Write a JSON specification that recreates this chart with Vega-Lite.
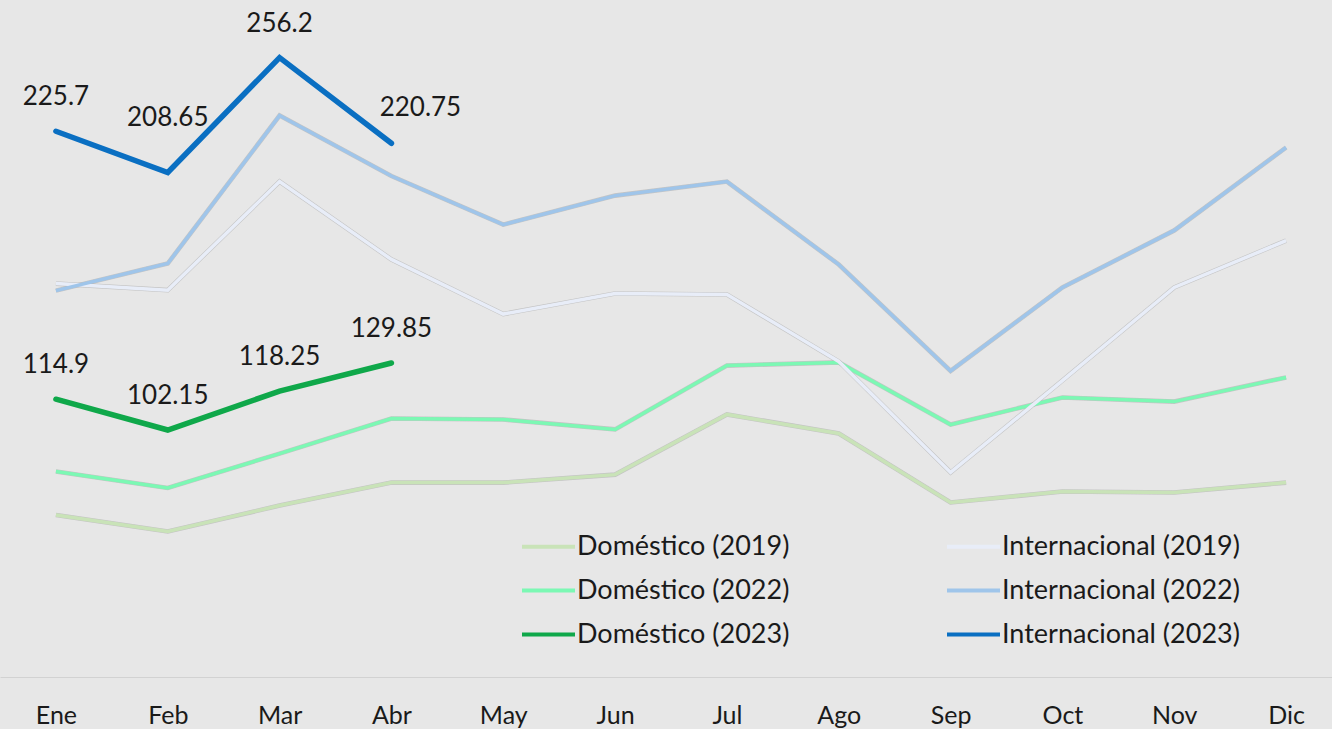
{
  "$schema": "https://vega.github.io/schema/vega-lite/v6.json",
  "width": 1342,
  "height": 677,
  "autosize": {"type": "none"},
  "padding": {"left": 0, "top": 0, "right": 0, "bottom": 52},
  "background": "#e7e7e7",
  "config": {
    "view": {"stroke": null},
    "font": "Lato"
  },
  "data": {
    "values": [
      {"mes": "Ene", "serie": "Doméstico (2019)", "valor": 67.0},
      {"mes": "Feb", "serie": "Doméstico (2019)", "valor": 60.2},
      {"mes": "Mar", "serie": "Doméstico (2019)", "valor": 70.9},
      {"mes": "Abr", "serie": "Doméstico (2019)", "valor": 80.4},
      {"mes": "May", "serie": "Doméstico (2019)", "valor": 80.4},
      {"mes": "Jun", "serie": "Doméstico (2019)", "valor": 83.7},
      {"mes": "Jul", "serie": "Doméstico (2019)", "valor": 108.6},
      {"mes": "Ago", "serie": "Doméstico (2019)", "valor": 100.7},
      {"mes": "Sep", "serie": "Doméstico (2019)", "valor": 72.2},
      {"mes": "Oct", "serie": "Doméstico (2019)", "valor": 76.7},
      {"mes": "Nov", "serie": "Doméstico (2019)", "valor": 76.3},
      {"mes": "Dic", "serie": "Doméstico (2019)", "valor": 80.4},
      {"mes": "Ene", "serie": "Doméstico (2022)", "valor": 85.0},
      {"mes": "Feb", "serie": "Doméstico (2022)", "valor": 78.2},
      {"mes": "Mar", "serie": "Doméstico (2022)", "valor": 92.4},
      {"mes": "Abr", "serie": "Doméstico (2022)", "valor": 106.9},
      {"mes": "May", "serie": "Doméstico (2022)", "valor": 106.5},
      {"mes": "Jun", "serie": "Doméstico (2022)", "valor": 102.4},
      {"mes": "Jul", "serie": "Doméstico (2022)", "valor": 128.8},
      {"mes": "Ago", "serie": "Doméstico (2022)", "valor": 130.1},
      {"mes": "Sep", "serie": "Doméstico (2022)", "valor": 104.4},
      {"mes": "Oct", "serie": "Doméstico (2022)", "valor": 115.6},
      {"mes": "Nov", "serie": "Doméstico (2022)", "valor": 113.9},
      {"mes": "Dic", "serie": "Doméstico (2022)", "valor": 123.9},
      {"mes": "Ene", "serie": "Internacional (2019)", "valor": 162.7},
      {"mes": "Feb", "serie": "Internacional (2019)", "valor": 160.0},
      {"mes": "Mar", "serie": "Internacional (2019)", "valor": 204.9},
      {"mes": "Abr", "serie": "Internacional (2019)", "valor": 172.7},
      {"mes": "May", "serie": "Internacional (2019)", "valor": 150.1},
      {"mes": "Jun", "serie": "Internacional (2019)", "valor": 158.6},
      {"mes": "Jul", "serie": "Internacional (2019)", "valor": 158.2},
      {"mes": "Ago", "serie": "Internacional (2019)", "valor": 130.5},
      {"mes": "Sep", "serie": "Internacional (2019)", "valor": 84.6},
      {"mes": "Oct", "serie": "Internacional (2019)", "valor": 122.6},
      {"mes": "Nov", "serie": "Internacional (2019)", "valor": 161.1},
      {"mes": "Dic", "serie": "Internacional (2019)", "valor": 180.5},
      {"mes": "Ene", "serie": "Internacional (2022)", "valor": 159.8},
      {"mes": "Feb", "serie": "Internacional (2022)", "valor": 171.0},
      {"mes": "Mar", "serie": "Internacional (2022)", "valor": 232.2},
      {"mes": "Abr", "serie": "Internacional (2022)", "valor": 207.2},
      {"mes": "May", "serie": "Internacional (2022)", "valor": 187.1},
      {"mes": "Jun", "serie": "Internacional (2022)", "valor": 199.1},
      {"mes": "Jul", "serie": "Internacional (2022)", "valor": 204.9},
      {"mes": "Ago", "serie": "Internacional (2022)", "valor": 170.6},
      {"mes": "Sep", "serie": "Internacional (2022)", "valor": 126.6},
      {"mes": "Oct", "serie": "Internacional (2022)", "valor": 161.1},
      {"mes": "Nov", "serie": "Internacional (2022)", "valor": 184.7},
      {"mes": "Dic", "serie": "Internacional (2022)", "valor": 219.0},
      {"mes": "Ene", "serie": "Doméstico (2023)", "valor": 114.9},
      {"mes": "Feb", "serie": "Doméstico (2023)", "valor": 102.15},
      {"mes": "Mar", "serie": "Doméstico (2023)", "valor": 118.25},
      {"mes": "Abr", "serie": "Doméstico (2023)", "valor": 129.85},
      {"mes": "Ene", "serie": "Internacional (2023)", "valor": 225.7},
      {"mes": "Feb", "serie": "Internacional (2023)", "valor": 208.65},
      {"mes": "Mar", "serie": "Internacional (2023)", "valor": 256.2},
      {"mes": "Abr", "serie": "Internacional (2023)", "valor": 220.75}
    ]
  },
  "encoding": {
    "x": {
      "field": "mes",
      "type": "ordinal",
      "sort": ["Ene", "Feb", "Mar", "Abr", "May", "Jun", "Jul", "Ago", "Sep", "Oct", "Nov", "Dic"],
      "scale": {"type": "point", "padding": 0.5},
      "axis": {
        "title": null,
        "orient": "bottom",
        "labelAngle": 0,
        "labelFont": "Lato",
        "labelFontSize": 25,
        "labelColor": "#1a1a1a",
        "labelPadding": 26,
        "ticks": false,
        "tickSize": 0,
        "grid": false,
        "domainColor": "#d2d2d2",
        "domainWidth": 1
      }
    },
    "y": {
      "field": "valor",
      "type": "quantitative",
      "scale": {"domain": [0, 280], "nice": false, "zero": true},
      "axis": null
    }
  },
  "layer": [
    {
      "transform": [{"filter": "indexof(datum.serie, '2023') < 0"}],
      "mark": {"type": "line", "stroke": "#9a9a9a", "strokeWidth": 4.6, "opacity": 0.45, "strokeJoin": "miter"},
      "encoding": {"detail": {"field": "serie"}}
    },
    {
      "transform": [{"filter": "indexof(datum.serie, '2023') < 0"}],
      "mark": {"type": "line", "strokeJoin": "miter", "strokeWidth": 3.5},
      "encoding": {
        "color": {
          "field": "serie",
          "type": "nominal",
          "scale": {
            "domain": ["Doméstico (2019)", "Doméstico (2022)", "Doméstico (2023)", "Internacional (2019)", "Internacional (2022)", "Internacional (2023)"],
            "range": ["#c9e3b8", "#7cf8b4", "#0fa84a", "#e8edf8", "#9fc5ea", "#0a6fc2"]
          },
          "legend": {
            "title": null,
            "orient": "none",
            "legendX": 520,
            "legendY": 518,
            "direction": "vertical",
            "columns": 2,
            "columnPadding": 149,
            "rowPadding": 2,
            "symbolType": "stroke",
            "symbolSize": 2809,
            "symbolStrokeWidth": 4,
            "labelFont": "Lato",
            "labelFontSize": 27,
            "labelColor": "#1a1a1a",
            "labelOffset": 0,
            "labelLimit": 400
          }
        }
      }
    },
    {
      "transform": [{"filter": "indexof(datum.serie, '2023') >= 0"}],
      "mark": {"type": "line", "strokeJoin": "miter", "strokeCap": "round", "strokeWidth": 5.5},
      "encoding": {
        "color": {"field": "serie", "type": "nominal"}
      }
    },
    {
      "transform": [
        {"filter": "indexof(datum.serie, '2023') >= 0"},
        {"filter": "!(datum.serie == 'Internacional (2023)' && (datum.mes == 'Feb' || datum.mes == 'Abr'))"}
      ],
      "mark": {"type": "text", "font": "Lato", "fontSize": 26, "color": "#1a1a1a", "baseline": "middle", "align": "center", "dy": -34},
      "encoding": {"text": {"field": "valor", "type": "quantitative", "format": "~g"}}
    },
    {
      "transform": [{"filter": "datum.serie == 'Internacional (2023)' && datum.mes == 'Feb'"}],
      "mark": {"type": "text", "font": "Lato", "fontSize": 26, "color": "#1a1a1a", "baseline": "middle", "align": "center", "dy": -55},
      "encoding": {"text": {"field": "valor", "type": "quantitative", "format": "~g"}}
    },
    {
      "transform": [{"filter": "datum.serie == 'Internacional (2023)' && datum.mes == 'Abr'"}],
      "mark": {"type": "text", "font": "Lato", "fontSize": 26, "color": "#1a1a1a", "baseline": "middle", "align": "center", "dx": 29, "dy": -35},
      "encoding": {"text": {"field": "valor", "type": "quantitative", "format": "~g"}}
    }
  ]
}
